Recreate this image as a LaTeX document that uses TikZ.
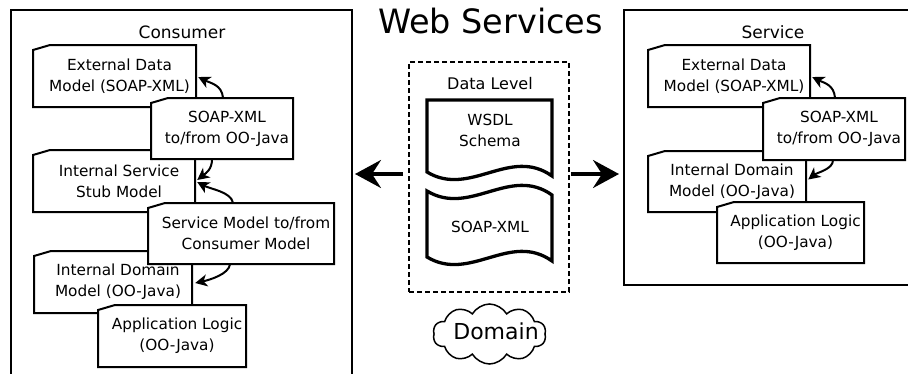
\documentclass[tikz,border=0pt]{standalone}
\usepackage{fontspec}
\setmainfont{DejaVu Sans}
\usetikzlibrary{calc,arrows.meta,shapes.symbols}
\tikzset{
  boxline/.style={line width=2pt, fill=white, line join=miter},
  cardtext/.style={inner sep=0pt, align=center, font=\fontsize{15.3}{21}\selectfont},
  outerbox/.style={draw, line width=2pt, rectangle, inner sep=0pt},
  docline/.style={line width=3.3pt, fill=white, line join=miter},
  smallarrow/.style={line width=2pt, -{Stealth[length=12pt,width=12pt,inset=3.5pt]}},
  bigarrow/.style={line width=3.5pt, -{Stealth[length=26pt,width=28pt,inset=9pt]}},
}
\newcommand\cardbox[6]{%
  \filldraw[boxline] (#2,#3+5) -- (#2+17,#3) -- (#4,#3) -- (#4,#5) -- (#2,#5) -- cycle;
  \node[cardtext, minimum width={#4-#2-10}, minimum height={#5-#3}] (#1) at ({(#2+#4)/2+5},{(#3+#5)/2}) {#6};
}
\begin{document}
\begin{tikzpicture}[x=1pt,y=-1pt]
\useasboundingbox (0,0) rectangle (908,373);
\clip (0,0) rectangle (908,373);
\fill[white] (0,0) rectangle (908,373);

% outer boxes
\node[outerbox, minimum width=341pt, minimum height=390pt] (consumer) at (181.5,205) {};
\node[outerbox, minimum width=316pt, minimum height=275pt] (service) at (782,147.5) {};
\node[font=\fontsize{17}{20}\selectfont, anchor=base] (constitle) at (182,38) {Consumer};
\node[font=\fontsize{17}{20}\selectfont, anchor=base] (servtitle) at (773,38) {Service};

% title
\node[font=\fontsize{33.5}{40}\selectfont, anchor=base] (title) at (490.5,33) {Web Services};

% consumer boxes
\cardbox{ext1}{33}{45}{196}{107}{External Data\\Model (SOAP-XML)}
\cardbox{stub1}{33}{150}{195}{212}{Internal Service\\Stub Model}
\cardbox{int1}{34}{251}{192}{313}{Internal Domain\\Model (OO-Java)}
\cardbox{soap1}{151}{98}{293}{159}{SOAP-XML\\to/from OO-Java}
\cardbox{svc1}{148}{203}{334}{264}{Service Model to/from\\Consumer Model}
\cardbox{app1}{98}{305}{246}{367}{Application Logic\\(OO-Java)}

% service boxes
\cardbox{ext2}{648}{45}{810}{107}{External Data\\Model (SOAP-XML)}
\cardbox{int2}{648}{151}{806}{212}{Internal Domain\\Model (OO-Java)}
\cardbox{soap2}{763}{98}{905}{160}{SOAP-XML\\to/from OO-Java}
\cardbox{app2}{717}{202}{864}{263}{Application Logic\\(OO-Java)}

% consumer arrows
\draw[smallarrow] ($(soap1.north)+(-4,0)$) .. controls +(-1,-13) and +(12,6) .. ($(ext1.east)+(2,1)$);
\draw[smallarrow] ($(soap1.south)+(-15,0)$) .. controls +(0,10) and +(9,-7) .. ($(stub1.east)+(2,-1)$);
\draw[smallarrow] ($(svc1.north)+(-13,0)$) .. controls +(-2,-11) and +(13,7) .. ($(stub1.east)+(2,1)$);
\draw[smallarrow] ($(svc1.south)+(-16,0)$) .. controls +(-1,10) and +(14,-3) .. ($(int1.east)+(3,1)$);

% service arrows
\draw[smallarrow] ($(soap2.north)+(-4,0)$) .. controls +(-1,-13) and +(12,6) .. ($(ext2.east)+(2,1)$);
\draw[smallarrow] ($(soap2.south)+(-6,0)$) .. controls +(0,9) and +(9,-7) .. ($(int2.east)+(2,-2)$);

% data level
\node[draw, line width=2pt, dash pattern=on 5pt off 3pt, minimum width=160pt, minimum height=230pt, inner sep=0pt] (datalevel) at (489,177) {};
\node[font=\fontsize{16}{19}\selectfont, anchor=base] (dltitle) at (490,89) {Data Level};

\filldraw[docline] (427,100) -- (552,100) -- (552,176) .. controls (510,146) and (470,198) .. (427,172) -- cycle;
\node[cardtext] (wsdl) at (490,130) {WSDL\\Schema};
\filldraw[docline] (427,191) .. controls (470,217) and (510,165) .. (552,195) -- (552,261) .. controls (510,231) and (470,283) .. (427,257) -- cycle;
\node[cardtext] (soapdoc) at (490,227) {SOAP-XML};

% big arrows
\coordinate (lstart) at ($(datalevel.west)+(-5,-3)$);
\coordinate (rstart) at ($(datalevel.east)+(1,-3)$);
\draw[bigarrow] (lstart) -- ($(consumer.east |- lstart)+(2,0)$);
\draw[bigarrow] (rstart) -- ($(service.west |- rstart)+(-4,0)$);

% domain cloud
\node[cloud, draw, line width=1.5pt, cloud puffs=10, cloud puff arc=120, cloud ignores aspect,
  minimum width=113pt, minimum height=60pt, inner sep=0pt,
  label={[font=\fontsize{22}{26}\selectfont, xshift=6.5pt, yshift=3pt, inner sep=0pt]center:Domain}] (domain) at (489.5,334) {};
\end{tikzpicture}
\end{document}
